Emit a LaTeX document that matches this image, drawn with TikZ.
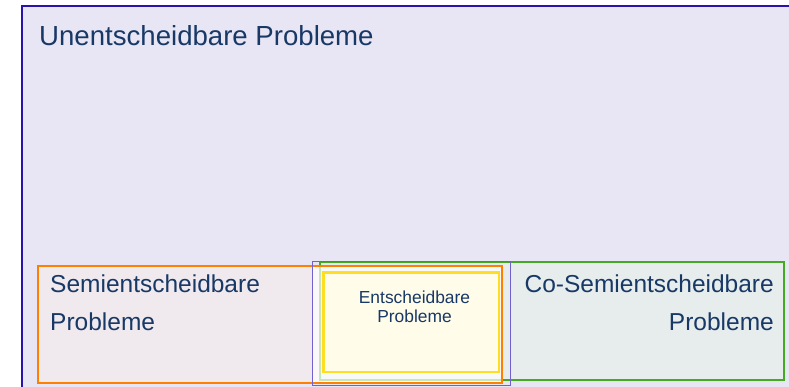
\documentclass[tikz,border=0pt]{standalone}
\usepackage{fontspec}
\setmainfont{Liberation Sans}
\usetikzlibrary{positioning}
\definecolor{textblue}{RGB}{24,56,102}
\definecolor{outerline}{RGB}{40,20,170}
\definecolor{outerfill}{RGB}{232,230,244}
\definecolor{semiline}{RGB}{255,128,0}
\definecolor{semifill}{RGB}{240,234,238}
\definecolor{coline}{RGB}{68,170,34}
\definecolor{cofill}{RGB}{231,237,237}
\definecolor{entline}{RGB}{255,221,34}
\definecolor{entfill}{RGB}{255,252,234}
\definecolor{frameline}{RGB}{112,96,208}
\tikzset{
    % boxes for the problem classes
    klasse/.style={line width=2.2pt},
    % labels
    gross/.style={text=textblue, inner sep=0pt,
           font=\fontsize{24.5}{29}\selectfont},
    klein/.style={text=textblue, inner sep=0pt, align=center,
           font=\fontsize{17.4}{19}\selectfont}
}
\begin{document}
\begin{tikzpicture}[x=1pt,y=-1pt]
    \useasboundingbox (0,0) rectangle (789,387);
    % Unentscheidbar
    \draw[klasse,draw=outerline,fill=outerfill] (22,6) rectangle (800,400);
    % Semientscheidbar / Co-Semientscheidbar
    \fill[semifill] (38,266) rectangle (502,383);
    \draw[klasse,draw=coline,fill=cofill] (320,262) rectangle (784,380);
    \fill[white,opacity=0.7] (312,266) rectangle (502,383);
    \draw[klasse,draw=semiline] (38,266) rectangle (502,383);
    \draw[frameline,line width=0.9pt] (312,261) rectangle (510.5,385.5);
    % Entscheidbar
    \draw[klasse,draw=entline,fill=entfill] (323.5,272.5) rectangle (499,372);
    \node (unent) [gross,anchor=base west,font=\fontsize{27.6}{32}\selectfont]
          at (39,45.5) {Unentscheidbare Probleme};
    \node (semi) [gross,anchor=base west] at (50,292) {Semientscheidbare};
    \node (semip) [gross,anchor=base west] at (50,330) {Probleme};
    \node (cosemi) [gross,anchor=base east] at (774,292) {Co-Semientscheidbare};
    \node (cosemip) [gross,anchor=base east] at (774,330) {Probleme};
    \node (ent) [klein,anchor=base] at (414.5,303) {Entscheidbare};
    \node (entp) [klein,anchor=base] at (414.5,322) {Probleme};
\end{tikzpicture}
\end{document}
